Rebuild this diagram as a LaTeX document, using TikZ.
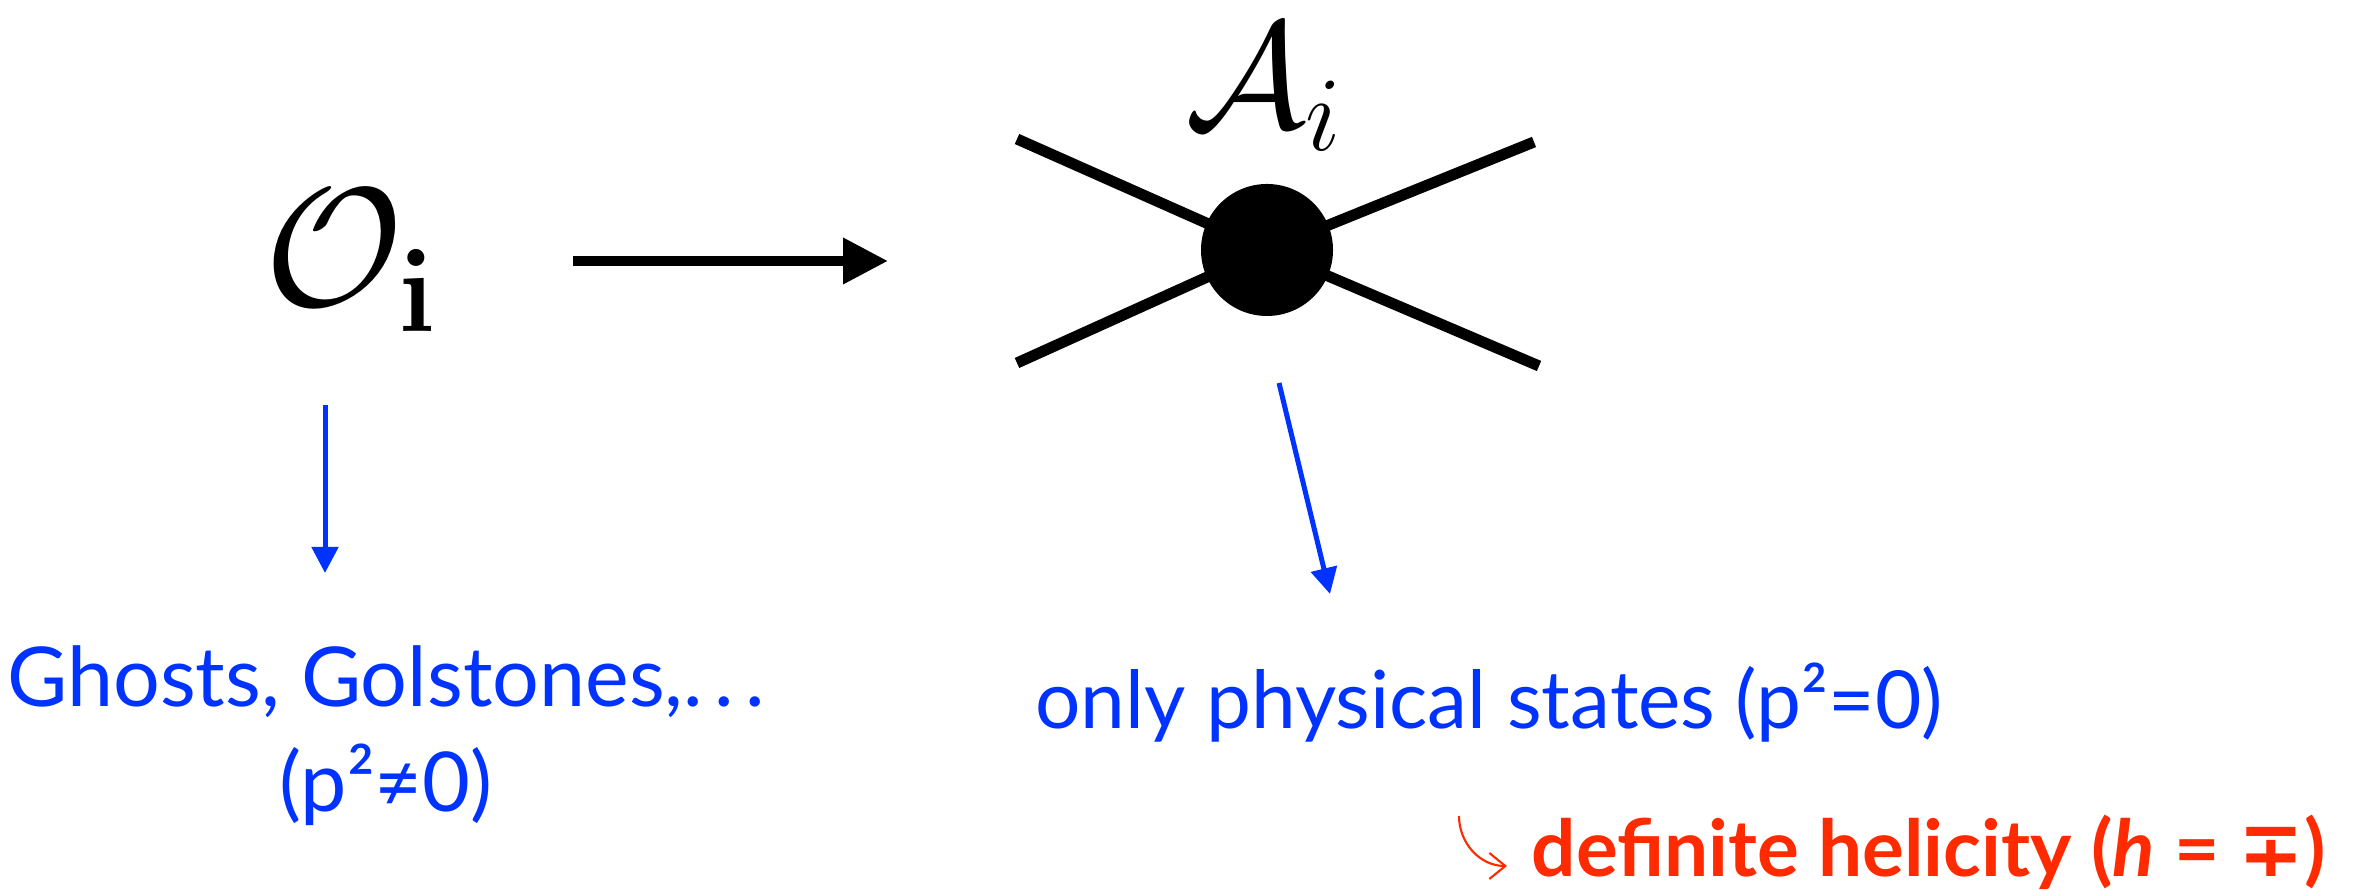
\RequirePackage{fix-cm}
\documentclass[tikz,border=0pt]{standalone}
\usepackage{amsmath,amssymb}
\usepackage[no-math]{fontspec}
\setmainfont{Lato}
\newfontfamily\symfont{DejaVu Sans}
\usepackage{xcolor}
\usepackage{tikz}
\usetikzlibrary{arrows.meta,positioning,calc}
\definecolor{blue2}{HTML}{0033FF}
\definecolor{red2}{HTML}{FF2A00}

\begin{document}
\begin{tikzpicture}[
    bigarr/.style={-{Triangle[length=4.5mm,width=4.4mm]},line width=1mm},
    bluearr/.style={-{Triangle[length=2.6mm,width=2.6mm]},line width=0.5mm,blue2},
    hookarr/.style={-{Straight Barb[length=1.6mm,width=2.6mm]},line width=0.6pt,red2},
    leg/.style={line width=1.1mm},
    dot/.style={circle,fill=black,inner sep=0pt,minimum size=1.32cm},
    bluetxt/.style={text=blue2,font=\fontsize{23.5}{30}\selectfont,inner sep=0pt},
    redtxt/.style={text=red2,font=\fontsize{22.3}{28}\selectfont\bfseries,inner sep=0pt},
  ]
  \useasboundingbox (0,0) rectangle (23.70,8.90);

  % operator on the left
  \node[anchor=east,inner sep=0pt,font=\fontsize{48}{52}\selectfont] (opi) at (4.38,6.29)
    {$\mathcal{O}_{\mathbf{i}}$};
  \draw[bigarr] (opi.east) ++(1.35,0) -- ++(3.15,0);

  % four-point vertex
  \coordinate (vc) at (12.67,6.40);
  \coordinate (lg1) at (10.17,7.51);
  \coordinate (lg2) at (10.17,5.27);
  \coordinate (lg3) at (15.34,7.48);
  \coordinate (lg4) at (15.39,5.24);
  \foreach \l in {lg1,lg2,lg3,lg4}
    \draw[leg] (\l) -- (vc);
  \node[dot] (vtx) at (vc) {};
  \node[above=0.32cm of vtx,xshift=-0.03cm,inner sep=0pt,font=\fontsize{43}{47}\selectfont] (ampl)
    {$\mathcal{A}_{i}$};

  % what each side contains
  \node[bluetxt,align=center,anchor=north] (ghost) at (3.86,2.45)
    {Ghosts, Golstones,.\kern0.14em.\kern0.14em.\\(p²≠0)};
  \node[bluetxt,anchor=base,font=\fontsize{22.8}{28}\selectfont] (phys) at (14.89,1.61)
    {only physical states (p²=0)};
  \coordinate (gtop) at (3.25,4.85);
  \coordinate (gbot) at (3.25,3.17);
  \draw[bluearr] (gtop) -- (gbot);
  \coordinate (ptop) at (12.79,5.07);
  \coordinate (pbot) at (13.30,2.96);
  \draw[bluearr] (ptop) -- (pbot);

  \node[redtxt,anchor=base west] (heli) at (15.31,0.13)
    {definite helicity (\textit{h} = {\symfont\bfseries ∓})};
  \coordinate (hk0) at (14.59,0.74);
  \coordinate (hk1) at (15.07,0.24);
  \draw[hookarr] (hk0) to[out=-90,in=180] (hk1);
\end{tikzpicture}
\end{document}
